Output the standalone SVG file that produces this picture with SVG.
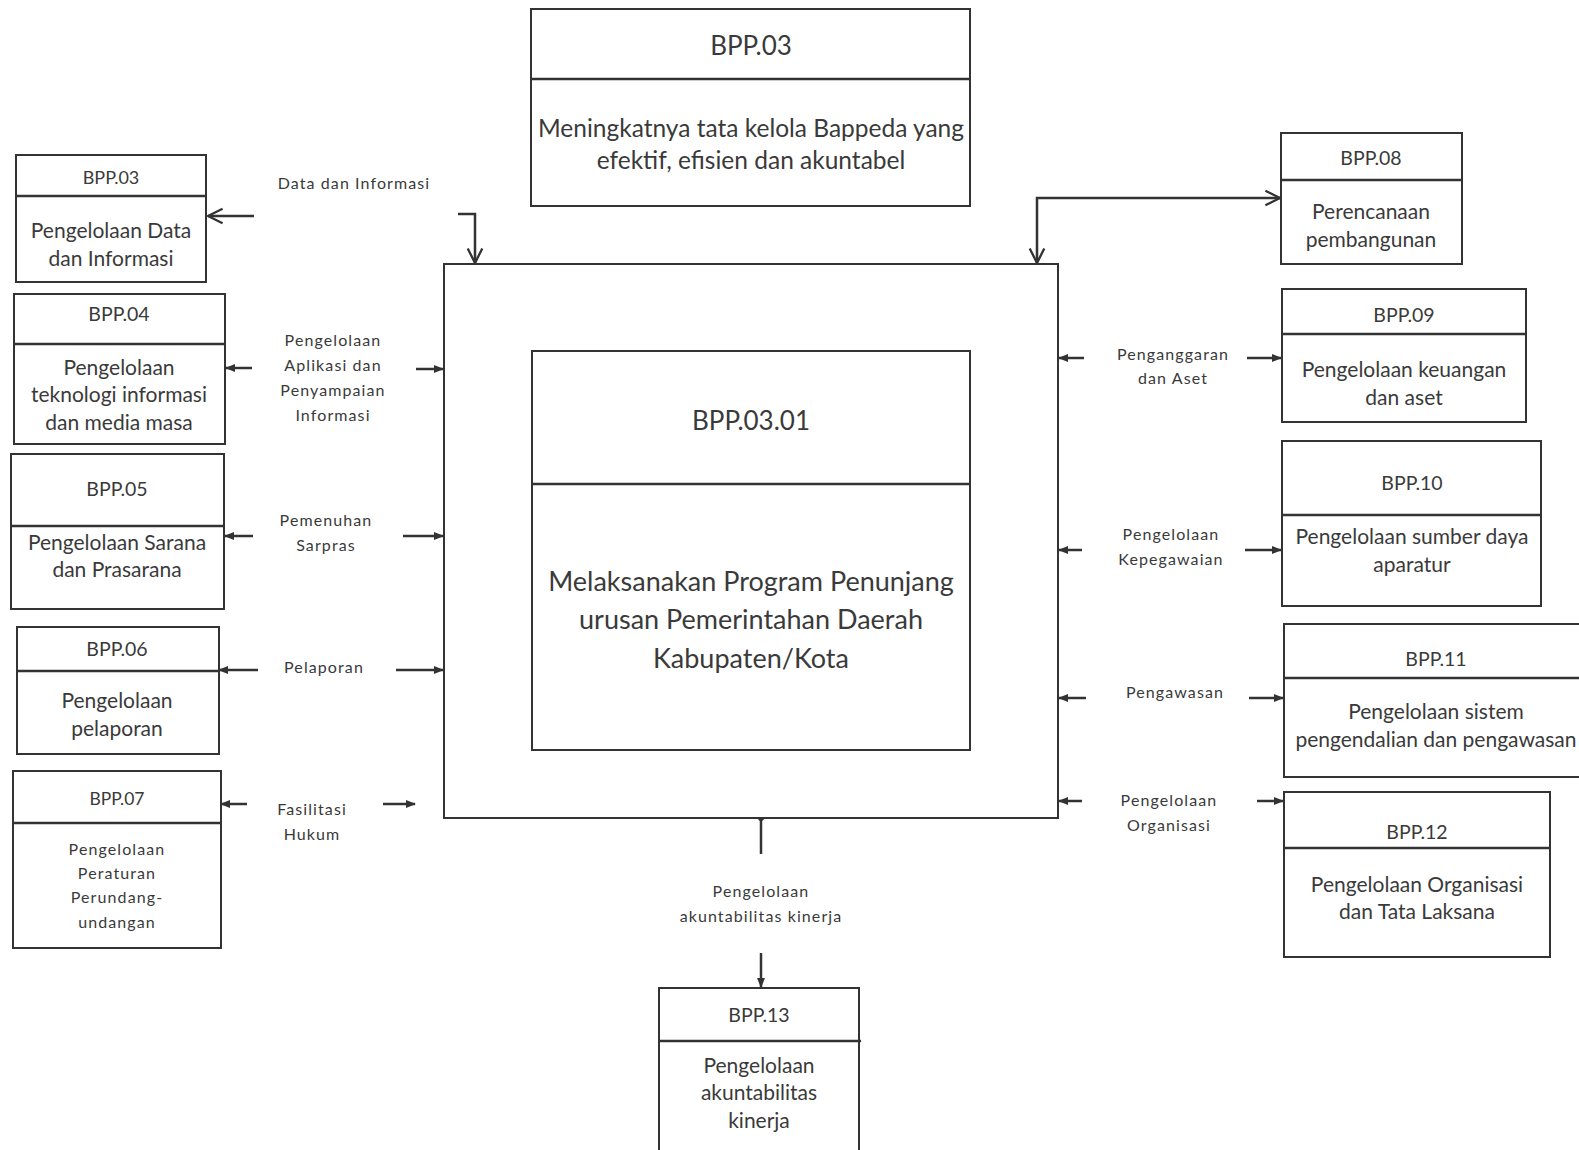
<svg xmlns="http://www.w3.org/2000/svg" width="1579" height="1150" viewBox="0 0 1579 1150">
<style>
  .box{fill:#fff;stroke:#333;stroke-width:2}
  .div{stroke:#333;stroke-width:2.5}
  .t{font-family:Lato,"Open Sans","Liberation Sans",sans-serif;fill:#3a3a3a;text-anchor:middle}
  .hd{font-size:19.5px}
  .bd{font-size:21px}
  .lb{font-size:16px;letter-spacing:1.1px}
  .con{fill:none;stroke:#333;stroke-width:2.5}
</style>
<defs>
  <marker id="sm" viewBox="0 0 10 10" refX="9" refY="5" markerWidth="4" markerHeight="4" orient="auto" markerUnits="strokeWidth">
    <path d="M0,1 L10,5 L0,9 Z" fill="#333"/>
  </marker>
  <marker id="op" viewBox="0 0 12 12" refX="11" refY="6" markerWidth="7" markerHeight="7" orient="auto-start-reverse" markerUnits="strokeWidth">
    <path d="M1,1 L11,6 L1,11" fill="none" stroke="#333" stroke-width="1.6"/>
  </marker>
</defs>
<rect width="1579" height="1150" fill="#fff"/>

<g id="connectors">
  <line class="con" x1="254" y1="216" x2="208" y2="216" marker-end="url(#op)"/>
  <path class="con" d="M458,214 H475 V263" marker-end="url(#op)"/>
  <path class="con" d="M1037,263 V198 H1280" marker-start="url(#op)" marker-end="url(#op)"/>
  <line class="con" x1="252" y1="368" x2="226" y2="368" marker-end="url(#sm)"/>
  <line class="con" x1="416" y1="369" x2="443" y2="369" marker-end="url(#sm)"/>
  <line class="con" x1="253" y1="536" x2="225" y2="536" marker-end="url(#sm)"/>
  <line class="con" x1="403" y1="536" x2="443" y2="536" marker-end="url(#sm)"/>
  <line class="con" x1="258" y1="670" x2="219" y2="670" marker-end="url(#sm)"/>
  <line class="con" x1="396" y1="670" x2="443" y2="670" marker-end="url(#sm)"/>
  <line class="con" x1="247" y1="804" x2="221" y2="804" marker-end="url(#sm)"/>
  <line class="con" x1="383" y1="804" x2="415" y2="804" marker-end="url(#sm)"/>
  <line class="con" x1="1084" y1="358" x2="1059" y2="358" marker-end="url(#sm)"/>
  <line class="con" x1="1247" y1="358" x2="1281" y2="358" marker-end="url(#sm)"/>
  <line class="con" x1="1082" y1="550" x2="1059" y2="550" marker-end="url(#sm)"/>
  <line class="con" x1="1245" y1="550" x2="1281" y2="550" marker-end="url(#sm)"/>
  <line class="con" x1="1086" y1="698" x2="1059" y2="698" marker-end="url(#sm)"/>
  <line class="con" x1="1249" y1="698" x2="1283" y2="698" marker-end="url(#sm)"/>
  <line class="con" x1="1082" y1="801" x2="1059" y2="801" marker-end="url(#sm)"/>
  <line class="con" x1="1257" y1="801" x2="1283" y2="801" marker-end="url(#sm)"/>
  <line class="con" x1="761" y1="854" x2="761" y2="818"/>
  <circle cx="761" cy="818" r="3" fill="#333"/>
  <line class="con" x1="761" y1="953" x2="761" y2="987" marker-end="url(#sm)"/>
</g>

<g id="labels">
  <text class="t lb" x="354" y="189">Data dan Informasi</text>
  <text class="t lb"><tspan x="333" y="346">Pengelolaan</tspan><tspan x="333" y="371">Aplikasi dan</tspan><tspan x="333" y="396">Penyampaian</tspan><tspan x="333" y="421">Informasi</tspan></text>
  <text class="t lb"><tspan x="326" y="526">Pemenuhan</tspan><tspan x="326" y="551">Sarpras</tspan></text>
  <text class="t lb" x="324" y="673">Pelaporan</text>
  <text class="t lb"><tspan x="312" y="815">Fasilitasi</tspan><tspan x="312" y="840">Hukum</tspan></text>
  <text class="t lb"><tspan x="1173" y="360">Penganggaran</tspan><tspan x="1173" y="384">dan Aset</tspan></text>
  <text class="t lb"><tspan x="1171" y="540">Pengelolaan</tspan><tspan x="1171" y="565">Kepegawaian</tspan></text>
  <text class="t lb" x="1175" y="698">Pengawasan</text>
  <text class="t lb"><tspan x="1169" y="806">Pengelolaan</tspan><tspan x="1169" y="831">Organisasi</tspan></text>
  <text class="t lb"><tspan x="761" y="897">Pengelolaan</tspan><tspan x="761" y="922">akuntabilitas kinerja</tspan></text>
</g>

<g id="top">
  <rect class="box" x="531" y="9" width="439" height="197"/>
  <line class="div" x1="531" y1="79" x2="970" y2="79"/>
  <text class="t" font-size="26" x="751" y="55">BPP.03</text>
  <text class="t" font-size="24.5"><tspan x="751" y="137">Meningkatnya tata kelola Bappeda yang</tspan><tspan x="751" y="169">efektif, efisien dan akuntabel</tspan></text>
</g>

<g id="main">
  <rect class="box" x="444" y="264" width="614" height="554" stroke-width="2.5"/>
  <rect class="box" x="532" y="351" width="438" height="399"/>
  <line class="div" x1="532" y1="484" x2="970" y2="484"/>
  <text class="t" font-size="26" x="751" y="430">BPP.03.01</text>
  <text class="t" font-size="27"><tspan x="751" y="591">Melaksanakan Program Penunjang</tspan><tspan x="751" y="629">urusan Pemerintahan Daerah</tspan><tspan x="751" y="668">Kabupaten/Kota</tspan></text>
</g>

<g id="bpp03">
  <rect class="box" x="16" y="155" width="190" height="127"/>
  <line class="div" x1="16" y1="196" x2="206" y2="196"/>
  <text class="t" font-size="18" x="111" y="184">BPP.03</text>
  <text class="t bd"><tspan x="111" y="238">Pengelolaan Data</tspan><tspan x="111" y="266">dan Informasi</tspan></text>
</g>
<g id="bpp04">
  <rect class="box" x="14" y="294" width="211" height="150"/>
  <line class="div" x1="14" y1="344" x2="225" y2="344"/>
  <text class="t hd" x="119" y="321">BPP.04</text>
  <text class="t bd"><tspan x="119" y="375">Pengelolaan</tspan><tspan x="119" y="402">teknologi informasi</tspan><tspan x="119" y="430">dan media masa</tspan></text>
</g>
<g id="bpp05">
  <rect class="box" x="11" y="454" width="213" height="155"/>
  <line class="div" x1="11" y1="526" x2="224" y2="526"/>
  <text class="t hd" x="117" y="496">BPP.05</text>
  <text class="t bd"><tspan x="117" y="550">Pengelolaan Sarana</tspan><tspan x="117" y="577">dan Prasarana</tspan></text>
</g>
<g id="bpp06">
  <rect class="box" x="17" y="627" width="202" height="127"/>
  <line class="div" x1="17" y1="671" x2="219" y2="671"/>
  <text class="t hd" x="117" y="656">BPP.06</text>
  <text class="t bd"><tspan x="117" y="708">Pengelolaan</tspan><tspan x="117" y="736">pelaporan</tspan></text>
</g>
<g id="bpp07">
  <rect class="box" x="13" y="771" width="208" height="177"/>
  <line class="div" x1="13" y1="823" x2="221" y2="823"/>
  <text class="t" font-size="17.5" x="117" y="805">BPP.07</text>
  <text class="t lb"><tspan x="117" y="855">Pengelolaan</tspan><tspan x="117" y="879">Peraturan</tspan><tspan x="117" y="903">Perundang-</tspan><tspan x="117" y="928">undangan</tspan></text>
</g>

<g id="bpp08">
  <rect class="box" x="1281" y="133" width="181" height="131"/>
  <line class="div" x1="1281" y1="180" x2="1462" y2="180"/>
  <text class="t hd" x="1371" y="165">BPP.08</text>
  <text class="t bd"><tspan x="1371" y="219">Perencanaan</tspan><tspan x="1371" y="247">pembangunan</tspan></text>
</g>
<g id="bpp09">
  <rect class="box" x="1282" y="289" width="244" height="133"/>
  <line class="div" x1="1282" y1="334" x2="1526" y2="334"/>
  <text class="t hd" x="1404" y="322">BPP.09</text>
  <text class="t bd"><tspan x="1404" y="377">Pengelolaan keuangan</tspan><tspan x="1404" y="405">dan aset</tspan></text>
</g>
<g id="bpp10">
  <rect class="box" x="1282" y="441" width="259" height="165"/>
  <line class="div" x1="1282" y1="515" x2="1541" y2="515"/>
  <text class="t hd" x="1412" y="490">BPP.10</text>
  <text class="t bd"><tspan x="1412" y="544">Pengelolaan sumber daya</tspan><tspan x="1412" y="572">aparatur</tspan></text>
</g>
<g id="bpp11">
  <rect class="box" x="1284" y="624" width="305" height="153"/>
  <line class="div" x1="1284" y1="678" x2="1589" y2="678"/>
  <text class="t hd" x="1436" y="666">BPP.11</text>
  <text class="t bd"><tspan x="1436" y="719">Pengelolaan sistem</tspan><tspan x="1436" y="747">pengendalian dan pengawasan</tspan></text>
</g>
<g id="bpp12">
  <rect class="box" x="1284" y="792" width="266" height="165"/>
  <line class="div" x1="1284" y1="848" x2="1550" y2="848"/>
  <text class="t hd" x="1417" y="839">BPP.12</text>
  <text class="t bd"><tspan x="1417" y="892">Pengelolaan Organisasi</tspan><tspan x="1417" y="919">dan Tata Laksana</tspan></text>
</g>
<g id="bpp13">
  <rect class="box" x="659" y="988" width="200" height="172"/>
  <line class="div" x1="659" y1="1041" x2="861" y2="1041"/>
  <text class="t hd" x="759" y="1022">BPP.13</text>
  <text class="t bd"><tspan x="759" y="1073">Pengelolaan</tspan><tspan x="759" y="1100">akuntabilitas</tspan><tspan x="759" y="1128">kinerja</tspan></text>
</g>
</svg>
